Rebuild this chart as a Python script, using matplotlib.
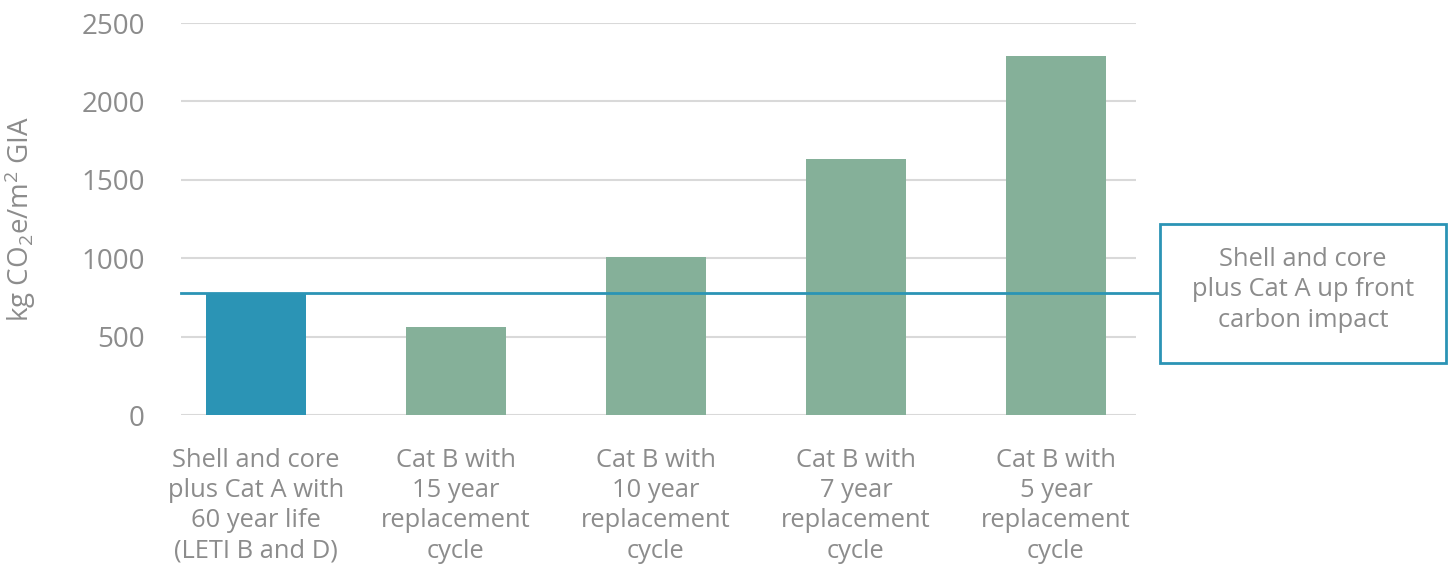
import matplotlib
matplotlib.use("Agg")
import matplotlib.pyplot as plt
from matplotlib.patches import FancyBboxPatch

plt.rcParams['font.family'] = ['Open Sans', 'DejaVu Sans']
plt.rcParams['mathtext.fontset'] = 'custom'
plt.rcParams['mathtext.rm'] = 'Open Sans'
plt.rcParams['mathtext.it'] = 'Open Sans'

categories = [
    "Shell and core\nplus Cat A with\n60 year life\n(LETI B and D)",
    "Cat B with\n15 year\nreplacement\ncycle",
    "Cat B with\n10 year\nreplacement\ncycle",
    "Cat B with\n7 year\nreplacement\ncycle",
    "Cat B with\n5 year\nreplacement\ncycle",
]
values = [775, 560, 1010, 1635, 2290]
upfront_value = 775
upfront_label = "Shell and core\nplus Cat A up front\ncarbon impact"
yticks = [0, 500, 1000, 1500, 2000, 2500]

BLUE = "#2B94B5"
GREEN = "#85B099"
TEXT = "#8C8C8C"
GRID = "#D9D9D9"

W, H = 1453, 567
fig = plt.figure(figsize=(W / 100, H / 100), dpi=100)
ax = fig.add_axes([181 / W, 1 - 415 / H, (1136 - 181) / W, (415 - 23) / H])

colors = [BLUE] + [GREEN] * (len(values) - 1)
x = list(range(len(values)))
ax.bar(x, values, width=0.5, color=colors, zorder=2)

ax.set_ylim(0, 2500)
ax.set_xlim(-0.375, 4.4)
ax.set_yticks(yticks)
ax.set_yticklabels([str(v) for v in yticks], fontsize=20, color=TEXT)
ax.set_xticks(x)
ax.set_xticklabels(categories, fontsize=18.4, color=TEXT, linespacing=1.28, va="top")
ax.tick_params(axis="y", length=0, pad=26)
ax.tick_params(axis="x", length=0, pad=23.5)
ax.grid(axis="y", color=GRID, linewidth=1.5, zorder=0)
for s in ax.spines.values():
    s.set_visible(False)

fig.text(20 / W, 1 - 219 / H, r"kg CO$_2$e/m$^2$ GIA", rotation=90, ha="center", va="center",
         fontsize=20, color=TEXT)

# up-front carbon reference line running out to the annotation box
line_end = (1160 - 181) / (1136 - 181)
ax.axhline(upfront_value, xmin=0, xmax=line_end, color=BLUE, linewidth=2, zorder=3, clip_on=False)

bx0, by0 = 1160 / W, 1 - 363 / H
bw, bh = (1446 - 1160) / W, (363 - 224) / H
box = FancyBboxPatch((bx0, by0), bw, bh, boxstyle="square,pad=0", transform=fig.transFigure,
                     facecolor="white", edgecolor=BLUE, linewidth=2)
fig.patches.append(box)
fig.text(bx0 + bw / 2, 1 - 290 / H, upfront_label, ha="center", va="center",
         fontsize=18.4, color=TEXT, linespacing=1.28)

fig.savefig("out.png", dpi=100)
